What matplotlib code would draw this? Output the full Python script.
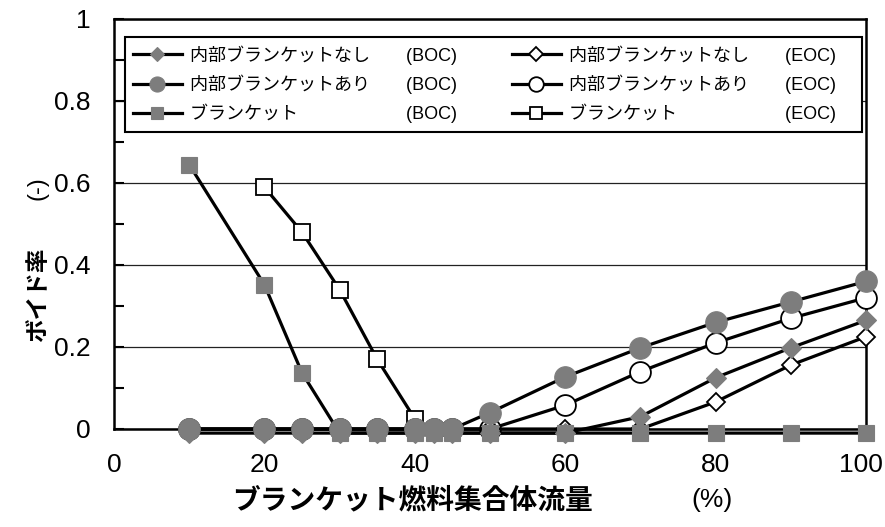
import matplotlib
matplotlib.use("Agg")
import matplotlib.pyplot as plt
from matplotlib.ticker import MultipleLocator, FixedLocator, FixedFormatter
from matplotlib.transforms import ScaledTranslation

plt.rcParams['font.family'] = ['Liberation Sans', 'Noto Sans CJK JP', 'DejaVu Sans']

# Flow rate of blanket assemblies (%)
x_main = [10, 20, 25, 30, 35, 40, 42.5, 45, 50, 60, 70, 80, 90, 100]
x_blanket_eoc = [20, 25, 30, 35, 40]

# Void fraction (-)
no_inner_boc = [-0.01, -0.01, -0.01, -0.01, -0.01, -0.01, -0.01, -0.01, -0.01, -0.01, 0.03, 0.125, 0.198, 0.265]
with_inner_boc = [0, 0, 0, 0, 0, 0, 0, 0, 0.04, 0.127, 0.198, 0.26, 0.31, 0.36]
blanket_boc = [0.645, 0.352, 0.137, -0.01, -0.01, -0.01, -0.01, -0.01, -0.01, -0.01, -0.01, -0.01, -0.01, -0.01]
no_inner_eoc = [0, 0, 0, 0, 0, 0, 0, 0, 0, 0, 0, 0.066, 0.156, 0.225]
with_inner_eoc = [0, 0, 0, 0, 0, 0, 0, 0, 0, 0.058, 0.14, 0.21, 0.27, 0.32]
blanket_eoc = [0.59, 0.48, 0.34, 0.17, 0.025]

legend_names = ["内部ブランケットなし", "内部ブランケットあり", "ブランケット"]
x_ticks = [0, 20, 40, 60, 80, 100]
x_tick_labels = ["0", "20", "40", "60", "80", "100"]
y_ticks = [0, 0.2, 0.4, 0.6, 0.8, 1.0]
y_tick_labels = ["0", "0.2", "0.4", "0.6", "0.8", "1"]

GRAY = "#7d7d7d"
LW = 2.3

fig = plt.figure(figsize=(8.85, 5.27), dpi=100)
ax = fig.add_axes([114 / 885, 1 - 429 / 527, (866 - 114) / 885, (429 - 19) / 527])

common = dict(color="black", lw=LW, clip_on=False)
open_style = dict(markerfacecolor="white", markeredgecolor="black", markeredgewidth=1.3)
fill_style = dict(markerfacecolor=GRAY, markeredgecolor=GRAY, markeredgewidth=0.8)

# End-of-cycle series (drawn underneath)
h_b_eoc, = ax.plot(x_blanket_eoc, blanket_eoc, marker="s", ms=11.5, zorder=3, **common, **open_style)
h_w_eoc, = ax.plot(x_main, with_inner_eoc, marker="o", ms=15, zorder=3, **common, **open_style)
h_n_eoc, = ax.plot(x_main, no_inner_eoc, marker="D", ms=9.5, zorder=3, **common, **open_style)
# Beginning-of-cycle series
h_b_boc, = ax.plot(x_main, blanket_boc, marker="s", ms=12, zorder=4, **common, **fill_style)
h_n_boc, = ax.plot(x_main, no_inner_boc, marker="D", ms=10, zorder=4, **common, **fill_style)
h_w_boc, = ax.plot(x_main, with_inner_boc, marker="o", ms=15.5, zorder=4, **common, **fill_style)

ax.set_xlim(0, 100)
ax.set_ylim(0, 1)
ax.xaxis.set_major_locator(FixedLocator(x_ticks))
ax.xaxis.set_major_formatter(FixedFormatter(x_tick_labels))
ax.yaxis.set_major_locator(FixedLocator(y_ticks))
ax.yaxis.set_major_formatter(FixedFormatter(y_tick_labels))
ax.yaxis.set_minor_locator(MultipleLocator(0.1))
ax.tick_params(axis="x", length=0, pad=17, labelsize=19)
ax.tick_params(axis="y", which="both", direction="in", length=7, width=1.5, pad=17, labelsize=19)

# keep the last x label inside the canvas
last = ax.get_xticklabels()[-1]
last.set_horizontalalignment("right")
last.set_transform(last.get_transform() + ScaledTranslation(0.165, 0, fig.dpi_scale_trans))

ax.set_axisbelow(True)
ax.yaxis.grid(True, which="major", color="#222222", lw=0.9)
for s in ax.spines.values():
    s.set_linewidth(1.8)
    s.set_color("black")

def pad_label(name, tag, tail=""):
    fill = "\u3000" * (10 - len(name) + 2)
    return name + fill + tag + tail

# legend: first column beginning of cycle, second column end of cycle
handles = [h_n_boc, h_w_boc, h_b_boc, h_n_eoc, h_w_eoc, h_b_eoc]
labels = ([pad_label(n, "(BOC)") for n in legend_names]
          + [pad_label(n, "(EOC)", "\u3000") for n in legend_names])

leg = ax.legend(handles, labels, loc="upper left", ncol=2, mode="expand",
                bbox_to_anchor=(0.0146, 0.734, 0.980, 0.222), borderaxespad=0,
                fontsize=13, handlelength=2.7, handletextpad=0.45, labelspacing=0.55,
                markerscale=0.7, frameon=True, fancybox=False, framealpha=1,
                borderpad=0.45, columnspacing=1.0)
leg.get_frame().set_edgecolor("black")
leg.get_frame().set_linewidth(1.5)
leg.set_zorder(10)

# Axis titles
fig.text(38 / 885, 1 - 295 / 527, "ボイド率", rotation=90, ha="center", va="center",
         fontsize=17, fontweight="bold", family=["Noto Sans CJK JP"])
fig.text(38 / 885, 1 - 188 / 527, "(-)", rotation=90, ha="center", va="center", fontsize=17)
fig.text(412 / 885, 1 - 500 / 527, "ブランケット燃料集合体流量", ha="center", va="center",
         fontsize=20, fontweight="bold", family=["Noto Sans CJK JP"])
fig.text(712 / 885, 1 - 500 / 527, "(%)", ha="center", va="center", fontsize=19)

fig.savefig("out.png", dpi=100)
